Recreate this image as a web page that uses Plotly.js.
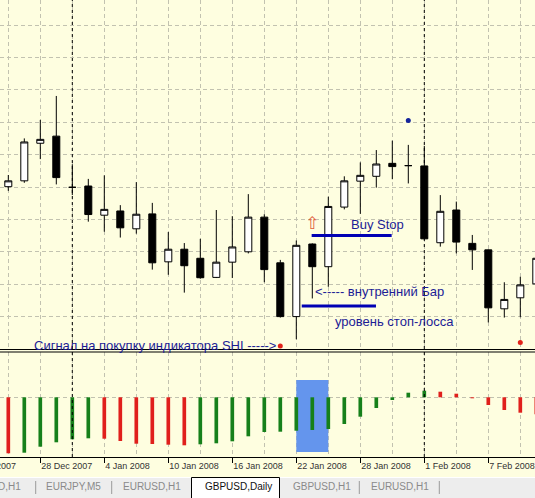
<!DOCTYPE html>
<html>
<head>
<meta charset="utf-8">
<script src="https://cdn.plot.ly/plotly-3.0.1.min.js"></script>
<style>html,body{margin:0;padding:0;background:#fefee0;}#chart{width:535px;height:498px;}</style>
</head>
<body>
<div id="chart"></div>
<script>
// ---- data (GBPUSD, Daily) ----
const barIndex = [0,1,2,3,4,5,6,7,8,9,10,11,12,13,14,15,16,17,18,19,20,21,22,23,24,25,26,27,28,29,30,31,32,33];
const openP  = [1.9801,1.9819,1.9935,1.9957,1.9799,1.9803,1.9713,1.9726,1.9671,1.9717,1.9569,1.9608,1.9580,1.9521,1.9568,1.9600,1.9707,1.9566,1.9400,1.9624,1.9554,1.9738,1.9818,1.9833,1.9873,1.9866,1.9865,1.9628,1.9729,1.9626,1.9606,1.9424,1.9458,1.9501];
const highP  = [1.9837,1.9950,2.0007,2.0081,1.9870,1.9825,1.9836,1.9744,1.9815,1.9751,1.9661,1.9627,1.9640,1.9729,1.9710,1.9778,1.9716,1.9575,1.9635,1.9626,1.9770,1.9833,1.9876,1.9914,1.9943,1.9930,1.9927,1.9775,1.9755,1.9652,1.9607,1.9506,1.9523,1.9606];
const lowP   = [1.9788,1.9813,1.9886,1.9808,1.9775,1.9693,1.9662,1.9644,1.9656,1.9545,1.9529,1.9474,1.9517,1.9519,1.9519,1.9595,1.9506,1.9397,1.9330,1.9456,1.9492,1.9731,1.9717,1.9798,1.9824,1.9811,1.9638,1.9616,1.9595,1.9544,1.9382,1.9397,1.9398,1.9482];
const closeP = [1.9819,1.9939,1.9947,1.9829,1.9799,1.9715,1.9731,1.9674,1.9716,1.9566,1.9608,1.9557,1.9520,1.9568,1.9615,1.9707,1.9545,1.9400,1.9620,1.9554,1.9740,1.9819,1.9836,1.9871,1.9863,1.9866,1.9640,1.9725,1.9630,1.9606,1.9427,1.9453,1.9498,1.9580];

// SHI indicator histogram
const shiValues = [-56.0,-55.4,-49.4,-45.0,-42.0,-41.0,-41.4,-43.7,-46.4,-46.7,-47.4,-48.0,-47.0,-46.0,-44.0,-39.0,-34.7,-34.4,-33.4,-32.7,-31.7,-26.7,-19.4,-10.7,-2.7,4.6,6.6,5.6,3.6,-1.0,-7.7,-12.7,-15.4,-17.0];
const shiDir    = ['dn','up','up','up','up','up','dn','dn','dn','dn','dn','dn','up','up','up','up','up','up','up','up','up','up','up','up','up','up','up','dn','dn','dn','dn','dn','dn','dn'];

// signal dots
const buySignalX = [17, 32];
const buySignalY = [1.9309, 1.9320];
const sellSignalX = [25];
const sellSignalY = [2.0005];

// order levels
const buyStopX = [18.96, 23.96];
const buyStopY = [1.9650, 1.9650];
const stopLossX = [18.34, 22.98];
const stopLossY = [1.9433, 1.9433];
const arrowX = [19];
const arrowY = [1.9683];

// axis labels
const dateTickVals = [2, 6, 10, 14, 18, 22, 26, 30];
const dateTickText = ['28 Dec 2007','4 Jan 2008','10 Jan 2008','16 Jan 2008','22 Jan 2008','28 Jan 2008','1 Feb 2008','7 Feb 2008'];
const periodSeparators = [4, 26];
const tabs = ['GBPUSD,H1','EURJPY,M5','EURUSD,H1','GBPUSD,Daily','GBPUSD,H1','EURUSD,H1'];

// ---- styling ----
const BG = '#fefee0';
const GRID = '#c2c2b0';
const GDASH = '4px,3px';
const TXT = '#1c1c96';
const F = 'Liberation Sans, Arial, sans-serif';

const traces = [
  {
    type: 'candlestick', x: barIndex, open: openP, high: highP, low: lowP, close: closeP,
    xaxis: 'x', yaxis: 'y',
    increasing: {line: {color: '#000', width: 1}, fillcolor: '#ffffff'},
    decreasing: {line: {color: '#000', width: 1}, fillcolor: '#000000'},
    whiskerwidth: 0, hoverinfo: 'skip'
  },
  {
    type: 'scatter', mode: 'lines', x: buyStopX, y: buyStopY, xaxis: 'x', yaxis: 'y',
    line: {color: '#0000b4', width: 3}, hoverinfo: 'skip'
  },
  {
    type: 'scatter', mode: 'lines', x: stopLossX, y: stopLossY, xaxis: 'x', yaxis: 'y',
    line: {color: '#0000b4', width: 3}, hoverinfo: 'skip'
  },
  {
    type: 'scatter', mode: 'markers', x: buySignalX, y: buySignalY, xaxis: 'x', yaxis: 'y',
    marker: {color: '#e2231a', size: 5}, hoverinfo: 'skip'
  },
  {
    type: 'scatter', mode: 'markers', x: sellSignalX, y: sellSignalY, xaxis: 'x', yaxis: 'y',
    marker: {color: '#14249c', size: 5}, hoverinfo: 'skip'
  },
  {
    type: 'scatter', mode: 'text', x: arrowX, y: arrowY, xaxis: 'x', yaxis: 'y',
    text: ['⇧'], textposition: 'middle center',
    textfont: {family: 'DejaVu Sans', size: 17, color: '#e0603c'}, hoverinfo: 'skip'
  },
  {
    type: 'bar', x: barIndex, y: shiValues, xaxis: 'x', yaxis: 'y2', width: 0.23,
    marker: {color: shiDir.map(d => d === 'up' ? '#16801a' : '#e0201c'), line: {width: 0}},
    hoverinfo: 'skip'
  }
];

const px = v => v / 535;
const py = v => 1 - v / 498;

const shapes = [];
// period separators across both panels
periodSeparators.forEach(s => shapes.push({
  type: 'line', xref: 'x', yref: 'paper', x0: s, x1: s, y0: py(457), y1: 1,
  line: {color: '#000', width: 1, dash: '3px,3px'}, layer: 'above'
}));
// double separator line between panels
shapes.push({type: 'line', xref: 'paper', yref: 'paper', x0: 0, x1: 1, y0: py(349.5), y1: py(349.5), line: {color: '#000', width: 1}});
shapes.push({type: 'line', xref: 'paper', yref: 'paper', x0: 0, x1: 1, y0: py(352), y1: py(352), line: {color: '#000', width: 1}});
// highlight in indicator window
shapes.push({type: 'rect', xref: 'x', yref: 'y2', x0: 18, x1: 20, y0: -54.7, y1: 17.3,
  fillcolor: '#6495ed', line: {width: 0}, layer: 'between'});
// tab bar
shapes.push({type: 'rect', xref: 'paper', yref: 'paper', x0: 0, x1: 1, y0: -0.01, y1: py(477),
  fillcolor: '#ededed', line: {width: 0}});
shapes.push({type: 'line', xref: 'paper', yref: 'paper', x0: 0, x1: 1, y0: py(477.5), y1: py(477.5),
  line: {color: '#ffffff', width: 1}});
shapes.push({type: 'path', xref: 'paper', yref: 'paper',
  path: `M ${px(191.5)} -0.01 L ${px(191.5)} ${py(477.5)} L ${px(279.5)} ${py(477.5)} L ${px(279.5)} -0.01 Z`,
  fillcolor: '#ffffff', line: {color: '#000', width: 1}});
[35.7, 111.7, 359.3, 439.3].forEach(x => shapes.push({
  type: 'line', xref: 'paper', yref: 'paper', x0: px(x), x1: px(x), y0: py(494), y1: py(481),
  line: {color: '#9a9a9a', width: 1}
}));

const annotations = [
  {xref: 'x', yref: 'y', x: 21.29, y: 1.9685, text: 'Buy Stop', xanchor: 'left', yanchor: 'middle', showarrow: false, font: {family: F, size: 13, color: TXT}},
  {xref: 'x', yref: 'y', x: 19.03, y: 1.9477, text: '<----- внутренний Бар', xanchor: 'left', yanchor: 'middle', showarrow: false, font: {family: F, size: 13, color: TXT}},
  {xref: 'x', yref: 'y', x: 20.31, y: 1.9384, text: 'уровень стоп-лосса', xanchor: 'left', yanchor: 'middle', showarrow: false, font: {family: F, size: 13, color: TXT}},
  {xref: 'x', yref: 'y', x: 1.5, y: 1.9310, text: 'Сигнал на покупку индикатора SHI ----->', xanchor: 'left', yanchor: 'middle', showarrow: false, font: {family: F, size: 13, color: TXT}},
  // partially visible date label at left edge
  {xref: 'paper', yref: 'paper', x: px(18), y: py(466), text: '24 Dec 2007', xanchor: 'right', yanchor: 'middle', showarrow: false, font: {family: F, size: 9, color: '#333'}},
  // tabs
  {xref: 'paper', yref: 'paper', x: px(23), y: py(486.5), text: tabs[0], xanchor: 'right', yanchor: 'middle', showarrow: false, font: {family: F, size: 10, color: '#8a8a8a'}},
  {xref: 'paper', yref: 'paper', x: px(44), y: py(486.5), text: tabs[1], xanchor: 'left', yanchor: 'middle', showarrow: false, font: {family: F, size: 10, color: '#8a8a8a'}},
  {xref: 'paper', yref: 'paper', x: px(120.7), y: py(486.5), text: tabs[2], xanchor: 'left', yanchor: 'middle', showarrow: false, font: {family: F, size: 10, color: '#8a8a8a'}},
  {xref: 'paper', yref: 'paper', x: px(202.7), y: py(486.5), text: tabs[3], xanchor: 'left', yanchor: 'middle', showarrow: false, font: {family: F, size: 10, color: '#111'}},
  {xref: 'paper', yref: 'paper', x: px(290.7), y: py(486.5), text: tabs[4], xanchor: 'left', yanchor: 'middle', showarrow: false, font: {family: F, size: 10, color: '#8a8a8a'}},
  {xref: 'paper', yref: 'paper', x: px(369), y: py(486.5), text: tabs[5], xanchor: 'left', yanchor: 'middle', showarrow: false, font: {family: F, size: 10, color: '#8a8a8a'}}
];

const layout = {
  width: 535, height: 498,
  margin: {l: 0, r: 0, t: 0, b: 0, pad: 0},
  paper_bgcolor: BG, plot_bgcolor: BG,
  showlegend: false, hovermode: false,
  boxgap: 0.375,
  xaxis: {
    domain: [0, 1], range: [-0.519, 32.919], anchor: 'y2',
    tickmode: 'array', tickvals: dateTickVals, ticktext: dateTickText,
    ticks: 'outside', ticklen: 5, tickwidth: 1, tickcolor: '#000',
    ticklabelposition: 'outside right',
    tickfont: {family: F, size: 9, color: '#333'},
    showgrid: true, gridcolor: GRID, griddash: GDASH, gridwidth: 1,
    minor: {tick0: 0, dtick: 2, showgrid: true, gridcolor: GRID, griddash: GDASH, gridwidth: 1, ticks: ''},
    showline: true, linecolor: '#000', linewidth: 1,
    zeroline: false, rangeslider: {visible: false}, fixedrange: true
  },
  yaxis: {
    domain: [py(349), 1], range: [1.93, 2.037716],
    tickmode: 'linear', tick0: 1.93, dtick: 0.01,
    showticklabels: false, ticks: '',
    showgrid: true, gridcolor: GRID, griddash: GDASH, gridwidth: 1,
    zeroline: false, showline: false, fixedrange: true
  },
  yaxis2: {
    domain: [py(457), py(352)], range: [-59.7, 45.3],
    tickmode: 'array', tickvals: [0],
    showticklabels: false, ticks: '',
    showgrid: true, gridcolor: GRID, griddash: GDASH, gridwidth: 1,
    zeroline: false, showline: false, fixedrange: true
  },
  shapes: shapes,
  annotations: annotations
};

Plotly.newPlot('chart', traces, layout, {staticPlot: true, displayModeBar: false});
</script>
</body>
</html>
